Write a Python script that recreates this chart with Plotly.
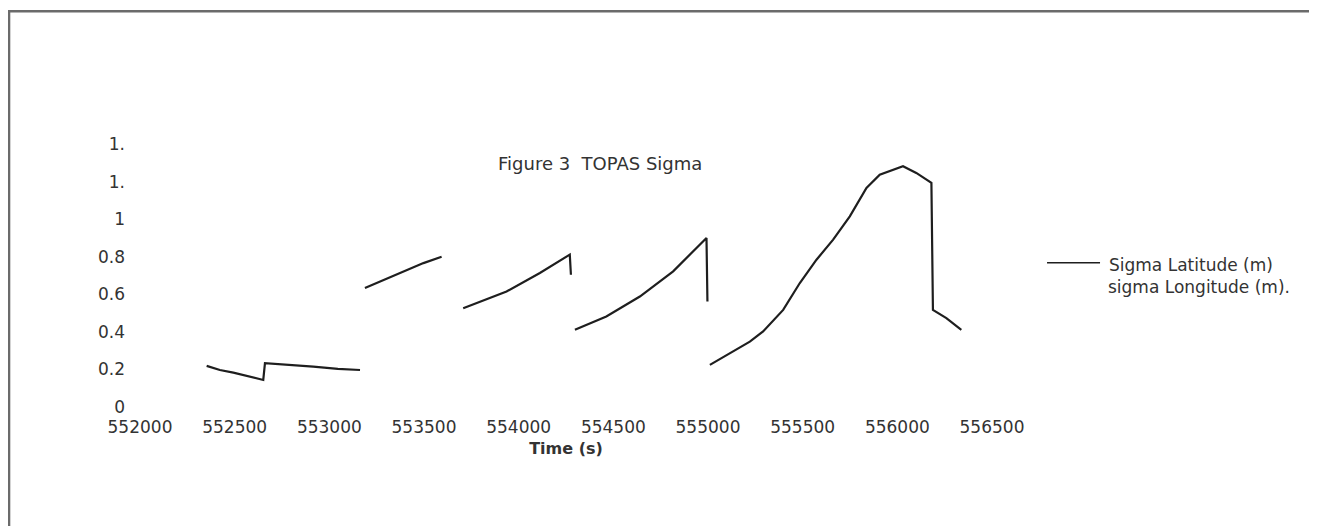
import plotly.graph_objects as go

# Data (None = gap between recording segments)
time_s = [552352, 552422, 552493, 552573, 552651, 552660, 552794, 552915, 553045, 553162,
          None,
          553188, 553296, 553390, 553497, 553593,
          None,
          553707, 553819, 553936, 554112, 554270, 554276,
          None,
          554297, 554463, 554640, 554816, 554992, 554997,
          None,
          555010, 555133, 555221, 555291, 555397, 555485, 555573, 555661, 555749, 555837,
          555907, 556030, 556100, 556180, 556188, 556259, 556338]
sigma_lat = [0.219, 0.197, 0.183, 0.165, 0.144, 0.233, 0.224, 0.215, 0.203, 0.197,
             None,
             0.633, 0.681, 0.720, 0.766, 0.800,
             None,
             0.526, 0.571, 0.615, 0.713, 0.811, 0.704,
             None,
             0.411, 0.482, 0.588, 0.722, 0.900, 0.562,
             None,
             0.224, 0.295, 0.348, 0.402, 0.517, 0.660, 0.784, 0.891, 1.015, 1.166,
             1.237, 1.282, 1.246, 1.193, 0.517, 0.473, 0.411]

x_ticks = [552000, 552500, 553000, 553500, 554000, 554500, 555000, 555500, 556000, 556500]
y_tickvals = [0, 0.2, 0.4, 0.6, 0.8, 1.0, 1.2, 1.4]
y_ticktext = ["0", "0.2", "0.4", "0.6", "0.8", "1", "1.", "1."]

series_names = ["Sigma Latitude (m)", "sigma Longitude (m)."]

FONT = "DejaVu Sans, Arial, sans-serif"
TXT = "#333333"
LINE = "#1e1e1e"

fig = go.Figure()
fig.add_trace(go.Scatter(
    x=time_s, y=sigma_lat, mode="lines", name=series_names[0],
    line=dict(color=LINE, width=2.2), connectgaps=False, showlegend=False,
))

fig.update_layout(
    width=1317, height=526,
    margin=dict(l=132, r=333, t=136, b=127),
    paper_bgcolor="white", plot_bgcolor="white",
    font=dict(family=FONT, size=17, color=TXT),
    showlegend=False,
    xaxis=dict(range=[552000, 556500], tickvals=x_ticks, ticktext=[str(v) for v in x_ticks],
               showgrid=False, zeroline=False, showline=False, ticks="",
               ticklabelstandoff=8,
               tickfont=dict(family=FONT, size=17, color=TXT),
               title=dict(text="<b>Time (s)</b>", font=dict(family=FONT, size=16, color=TXT),
                          standoff=6)),
    yaxis=dict(range=[0, 1.4], tickvals=y_tickvals, ticktext=y_ticktext,
               showgrid=False, zeroline=False, showline=False, ticks="",
               ticklabelstandoff=14,
               tickfont=dict(family=FONT, size=17, color=TXT)),
    annotations=[
        dict(text="Figure 3  TOPAS Sigma", x=0.540, y=0.926, xref="x domain", yref="y domain",
             showarrow=False, xanchor="center", yanchor="middle",
             font=dict(family=FONT, size=18, color=TXT)),
        dict(text=series_names[0], x=1.1350, y=0.541, xref="paper", yref="paper",
             showarrow=False, xanchor="left", yanchor="middle",
             font=dict(family=FONT, size=17, color=TXT)),
        dict(text=series_names[1], x=1.1340, y=0.455, xref="paper", yref="paper",
             showarrow=False, xanchor="left", yanchor="middle",
             font=dict(family=FONT, size=17, color=TXT)),
    ],
    shapes=[
        dict(type="rect", xref="paper", yref="paper", x0=-0.1537, x1=1.3768,
             y0=-0.6, y1=1.5048, line=dict(color="#6b6b6b", width=2.5), layer="below"),
        dict(type="line", xref="paper", yref="paper", x0=1.0646, x1=1.1268,
             y0=0.5486, y1=0.5486, line=dict(color=LINE, width=1.5)),
    ],
)
fig.update_xaxes(automargin=False)
fig.update_yaxes(automargin=False)

fig.write_html("out.html")
